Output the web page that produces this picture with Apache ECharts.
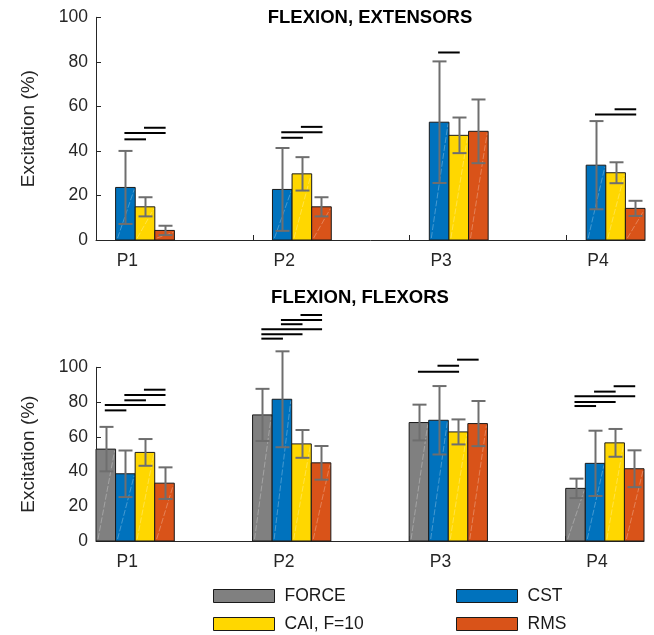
<!DOCTYPE html>
<html>
<head>
<meta charset="utf-8">
<script src="https://cdn.jsdelivr.net/npm/echarts@6/dist/echarts.min.js"></script>
<style>
html, body { margin: 0; padding: 0; background: #fff; }
#chart { width: 654px; height: 635px; }
</style>
</head>
<body>
<div id="chart"></div>
<script>
// categories and group names
const categories = ['P1', 'P2', 'P3', 'P4'];
const groupNames = ['FORCE', 'CST', 'CAI, F=10', 'RMS'];

// FLEXION, EXTENSORS (no FORCE bars) - mean and error
const extCST = [23.6, 22.7, 52.9, 33.6];
const extCAI = [14.9, 29.7, 47.0, 30.2];
const extRMS = [4.3, 14.9, 48.8, 14.2];
const extCSTErr = [16.4, 18.6, 27.3, 19.8];
const extCAIErr = [4.3, 7.5, 8.0, 4.7];
const extRMSErr = [2.1, 4.3, 14.3, 3.4];

// FLEXION, FLEXORS - mean and error
const flxFORCE = [52.9, 72.6, 68.2, 30.3];
const flxCST = [38.7, 81.6, 69.5, 44.7];
const flxCAI = [51.0, 55.9, 62.8, 56.5];
const flxRMS = [33.3, 45.0, 67.6, 41.6];
const flxFORCEErr = [12.8, 15.0, 10.3, 5.6];
const flxCSTErr = [13.4, 27.6, 19.7, 18.8];
const flxCAIErr = [7.7, 8.0, 7.2, 8.0];
const flxRMSErr = [9.1, 9.7, 13.0, 10.6];

// significance lines: [category, from group, to group, y]
const extSig = [
    [0, 2, 3, 50.4], [0, 1, 3, 48.1], [0, 1, 2, 45.2],
    [1, 2, 3, 50.8], [1, 1, 3, 48.4], [1, 1, 2, 45.9],
    [2, 1, 2, 84.2],
    [3, 2, 3, 58.7], [3, 1, 3, 56.4]
];
const flxSig = [
    [0, 2, 3, 87.1], [0, 1, 3, 84.1], [0, 1, 2, 81.0], [0, 0, 3, 78.3], [0, 0, 1, 75.2],
    [1, 2, 3, 130.1], [1, 1, 3, 127.2], [1, 1, 2, 124.8], [1, 0, 3, 121.9], [1, 0, 2, 119.0], [1, 0, 1, 116.5],
    [2, 2, 3, 104.4], [2, 1, 2, 100.9], [2, 0, 2, 97.5],
    [3, 2, 3, 89.1], [3, 1, 2, 86.0], [3, 0, 3, 83.3], [3, 0, 2, 80.0], [3, 0, 1, 77.7]
];

const colors = ['#808080', '#0072BD', '#FFD700', '#D95319'];
const BAR_W = 0.125;      // bar width in x units
const LABEL_OFF = 0.2;    // label offset from tick
const FONT = 'Liberation Sans, Arial, Helvetica, sans-serif';
const AXIS_COLOR = '#262626';

function barRender(k) {
    return function(params, api) {
        const cat = api.value(0);
        const mean = api.value(1);
        const err = api.value(2);
        const x0 = cat + k * BAR_W;
        const lb = api.coord([x0, 0]);
        const rt = api.coord([x0 + BAR_W, mean]);
        const hi = api.coord([x0 + BAR_W / 2, mean + err]);
        const lo = api.coord([x0 + BAR_W / 2, mean - err]);
        const cx = Math.round(hi[0]) + 0.5;
        const cap = 7;
        const errStyle = { stroke: '#6e6e6e', lineWidth: 2 };
        return {
            type: 'group',
            children: [
                {
                    type: 'rect',
                    shape: { x: lb[0], y: rt[1], width: rt[0] - lb[0], height: lb[1] - rt[1] },
                    style: { fill: api.visual('color'), stroke: '#1a1a1a', lineWidth: 1 }
                },
                {
                    type: 'line',
                    shape: { x1: lb[0] + 2, y1: lb[1] - 2, x2: rt[0] - 1, y2: rt[1] + 2 },
                    style: { stroke: 'rgba(255,255,255,0.35)', lineWidth: 0.8, lineDash: [6, 2] }
                },
                { type: 'line', shape: { x1: cx, y1: hi[1], x2: cx, y2: lo[1] }, style: errStyle },
                { type: 'line', shape: { x1: cx - cap, y1: hi[1], x2: cx + cap, y2: hi[1] }, style: errStyle },
                { type: 'line', shape: { x1: cx - cap, y1: lo[1], x2: cx + cap, y2: lo[1] }, style: errStyle }
            ]
        };
    };
}

function sigRender(params, api) {
    const cat = api.value(0);
    const a = api.coord([cat + (api.value(1) + 0.5) * BAR_W, api.value(3)]);
    const b = api.coord([cat + (api.value(2) + 0.5) * BAR_W, api.value(3)]);
    return {
        type: 'line',
        shape: { x1: a[0] - 1, y1: a[1], x2: b[0] + 1, y2: b[1] },
        style: { stroke: '#000', lineWidth: 2 }
    };
}

function barSeries(grid, k, means, errs) {
    return {
        type: 'custom',
        name: groupNames[k],
        xAxisIndex: grid,
        yAxisIndex: grid,
        itemStyle: { color: colors[k], borderColor: '#1a1a1a', borderWidth: 1 },
        encode: { x: 0, y: 1 },
        clip: false,
        renderItem: barRender(k),
        data: categories.map((c, i) => [i, means[i], errs[i]])
    };
}

function sigSeries(grid, rows) {
    return {
        type: 'custom',
        xAxisIndex: grid,
        yAxisIndex: grid,
        encode: { x: 0, y: 3 },
        clip: false,
        silent: true,
        renderItem: sigRender,
        data: rows
    };
}

function xAxis(grid) {
    return {
        type: 'value',
        gridIndex: grid,
        min: 0,
        max: 3.5,
        interval: 1,
        splitLine: { show: false },
        axisLine: { lineStyle: { color: AXIS_COLOR, width: 1 } },
        axisTick: {
            inside: true, length: 5,
            customValues: [1, 2, 3],
            lineStyle: { color: AXIS_COLOR }
        },
        axisLabel: {
            customValues: categories.map((c, i) => i + LABEL_OFF),
            formatter: v => categories[Math.floor(v + 1e-6)],
            fontSize: 17.5,
            fontFamily: FONT,
            color: AXIS_COLOR,
            margin: 12
        }
    };
}

function yAxis(grid) {
    return {
        type: 'value',
        gridIndex: grid,
        min: 0,
        max: 100,
        interval: 20,
        name: 'Excitation (%)',
        nameLocation: 'middle',
        nameRotate: 90,
        nameGap: 58,
        nameTextStyle: { fontSize: 19, fontFamily: FONT, color: AXIS_COLOR },
        splitLine: { show: false },
        axisLine: { show: true, lineStyle: { color: AXIS_COLOR, width: 1 } },
        axisTick: { show: true, inside: true, length: 5, lineStyle: { color: AXIS_COLOR } },
        axisLabel: { fontSize: 17.5, fontFamily: FONT, color: AXIS_COLOR, margin: 8 }
    };
}

function legendItem(name, left, top) {
    return {
        data: [name],
        left: left,
        top: top,
        padding: 0,
        icon: 'rect',
        itemWidth: 61,
        itemHeight: 13,
        itemStyle: { borderColor: '#1a1a1a', borderWidth: 1 },
        selectedMode: false,
        textStyle: { fontSize: 17.5, fontFamily: FONT, color: '#1a1a1a', padding: [0, 0, 0, 5] }
    };
}

const chart = echarts.init(document.getElementById('chart'), null, { renderer: 'canvas' });

chart.setOption({
    animation: false,
    backgroundColor: '#fff',
    title: [
        {
            text: 'FLEXION, EXTENSORS', left: 370, top: 8, textAlign: 'center', padding: 0,
            textStyle: { fontSize: 18.5, fontWeight: 'bold', fontFamily: FONT, color: '#000' }
        },
        {
            text: 'FLEXION, FLEXORS', left: 360, top: 288, textAlign: 'center', padding: 0,
            textStyle: { fontSize: 18.5, fontWeight: 'bold', fontFamily: FONT, color: '#000' }
        }
    ],
    legend: [
        legendItem('FORCE', 213, 587),
        legendItem('CST', 456, 587),
        legendItem('CAI, F=10', 213, 615),
        legendItem('RMS', 456, 615)
    ],
    grid: [
        { left: 96, top: 17.3, width: 549, height: 222.7 },
        { left: 96, top: 367.3, width: 548, height: 173.7 }
    ],
    xAxis: [xAxis(0), xAxis(1)],
    yAxis: [yAxis(0), yAxis(1)],
    series: [
        barSeries(0, 1, extCST, extCSTErr),
        barSeries(0, 2, extCAI, extCAIErr),
        barSeries(0, 3, extRMS, extRMSErr),
        sigSeries(0, extSig),
        barSeries(1, 0, flxFORCE, flxFORCEErr),
        barSeries(1, 1, flxCST, flxCSTErr),
        barSeries(1, 2, flxCAI, flxCAIErr),
        barSeries(1, 3, flxRMS, flxRMSErr),
        sigSeries(1, flxSig)
    ]
});
</script>
</body>
</html>
